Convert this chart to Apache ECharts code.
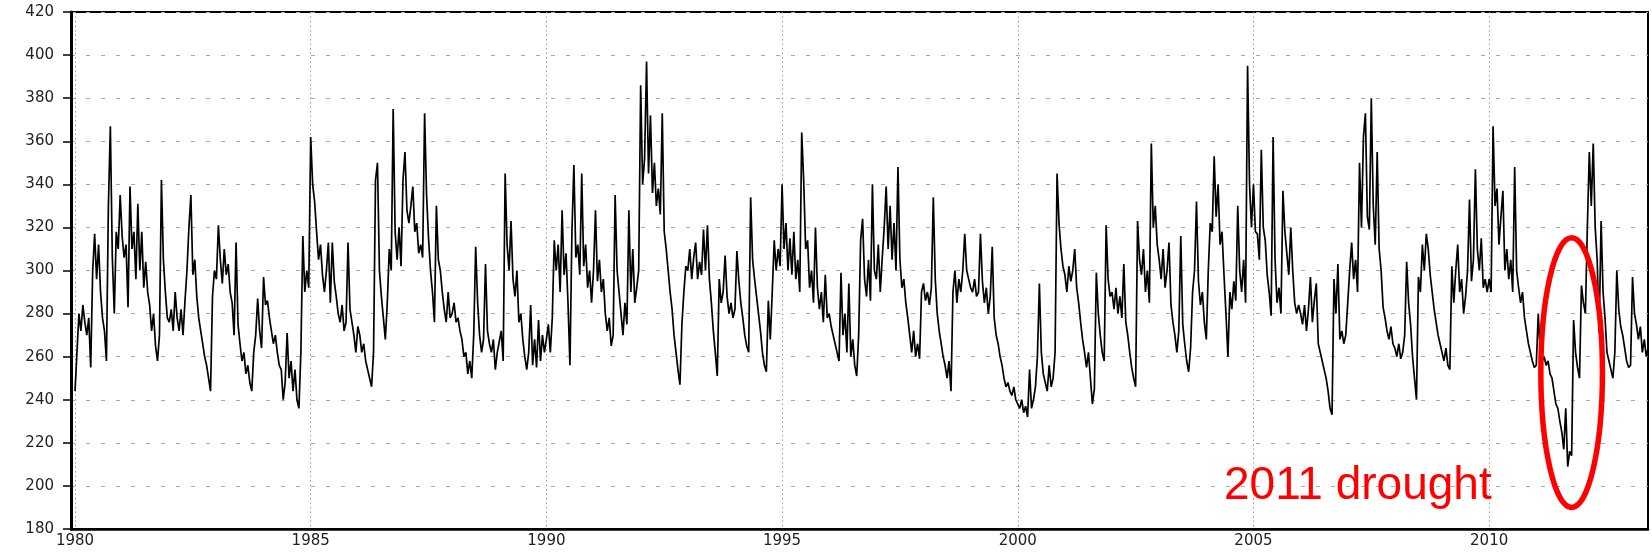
<!DOCTYPE html>
<html><head><meta charset="utf-8">
<script src="https://cdn.jsdelivr.net/npm/echarts@6/dist/echarts.min.js"></script>
<style>html,body{margin:0;padding:0;background:#fff}#c{width:1652px;height:556px}</style>
</head><body><div id="c"></div>
<script>
// half-monthly samples
const SAMPLES_PER_YEAR = 24;
const v1980 = [244,262,280,272,284,276,270,278,255,300,317,296,312,290,278,272,258,330,367,306,280,318,310,335];
const v1981 = [316,306,312,283,339,310,318,296,331,300,318,292,304,290,284,272,280,265,258,270,342,305,290,278];
const v1982 = [276,282,272,290,278,272,282,270,286,300,320,335,298,305,288,278,272,266,260,256,250,244,288,300];
const v1983 = [296,321,305,294,310,298,303,290,285,270,313,275,266,258,262,252,256,248,244,262,270,287,272,264];
const v1984 = [297,284,286,278,272,266,270,262,256,254,240,248,271,250,258,244,254,240,236,262,316,290,300,292];
const v1985 = [362,340,332,318,305,312,298,290,300,313,285,313,295,288,280,276,284,272,276,313,282,276,270,262];
const v1986 = [274,270,262,266,258,254,250,246,262,342,350,300,288,278,268,285,310,300,375,318,305,320,302,342];
const v1987 = [355,328,322,330,339,318,322,308,312,306,373,335,315,300,290,276,330,305,300,290,282,276,290,278];
const v1988 = [280,285,276,278,272,268,260,262,252,258,250,270,311,285,270,262,268,303,272,266,262,268,254,262];
const v1989 = [262,272,258,345,312,300,323,296,288,300,276,280,268,260,254,262,284,256,268,255,277,258,270,262];
const v1990 = [268,275,262,278,314,300,312,290,328,298,308,285,256,318,349,306,312,298,345,302,312,292,300,285];
const v1991 = [300,328,295,305,290,296,280,272,278,265,270,335,300,290,280,270,285,275,328,290,310,285,292,300];
const v1992 = [386,340,352,397,345,372,336,350,330,338,326,373,318,310,300,290,282,270,262,254,247,275,290,302];
const v1993 = [300,310,296,306,313,296,304,298,319,300,321,296,285,272,262,251,296,285,290,307,288,280,285,278];
const v1994 = [282,309,295,285,278,270,265,262,334,305,296,288,280,272,262,256,253,286,268,290,314,300,310,302];
const v1995 = [340,310,322,300,315,298,318,296,305,290,364,342,310,314,292,300,285,320,292,282,290,276,298,278];
const v1996 = [280,274,270,266,262,258,299,270,280,262,294,260,268,256,251,270,314,324,296,288,305,286,340,300];
const v1997 = [296,312,290,306,320,339,310,330,305,322,300,348,305,292,296,285,278,270,262,272,260,266,259,290];
const v1998 = [294,286,290,284,292,334,296,280,272,266,260,256,250,258,244,290,300,285,296,290,300,317,300,296];
const v1999 = [292,290,296,288,290,317,295,285,292,280,288,311,278,270,266,260,256,250,246,248,244,242,246,240];
const v2000 = [238,236,240,234,237,232,254,236,240,246,260,294,262,252,248,244,256,246,250,262,345,322,310,302];
const v2001 = [298,290,302,295,300,310,292,285,276,268,262,255,262,250,238,245,299,280,270,262,258,321,296,288];
const v2002 = [290,282,292,280,288,278,303,276,270,262,255,250,246,323,305,298,310,290,300,285,359,320,330,312];
const v2003 = [305,296,310,292,300,313,284,276,270,262,272,316,275,266,258,253,264,290,300,332,295,284,290,276];
const v2004 = [268,300,322,318,353,325,340,312,318,298,280,260,290,282,295,286,330,300,290,305,285,395,340,320];
const v2005 = [340,318,317,305,356,320,314,298,290,279,362,305,285,292,280,337,318,308,298,320,300,285,280,284];
const v2006 = [280,275,284,272,282,297,276,286,294,266,262,258,254,250,244,236,233,296,280,303,268,272,266,270];
const v2007 = [270,300,313,296,305,290,350,320,362,373,325,319,380,330,312,355,310,300,283,278,272,268,274,266];
const v2008 = [264,260,266,259,262,270,304,285,275,260,250,240,297,290,312,300,317,310,298,290,282,276,270,266];
const v2009 = [262,258,264,256,254,302,285,300,312,290,296,280,288,300,333,295,305,347,310,300,315,292,296,290];
const v2010 = [296,290,367,330,338,312,325,337,300,310,296,305,290,348,300,292,285,290,278,272,266,262,258,255];
const v2011 = [256,280,262,258,260,256,258,252,250,244,238,236,230,225,217,236,209,216,214,277,262,255,250,293];
const v2012 = [285,280,320,355,330,359,320,305,271,323,290,278,262,258,254,250,262,300,282,274,270,264,258,255];
const v2013 = [256,297,280,275,268,274,262,268,260,264];

const firstYear = 1980;
const yearArrays = [v1980,v1981,v1982,v1983,v1984,v1985,v1986,v1987,v1988,v1989,v1990,v1991,v1992,v1993,v1994,v1995,v1996,v1997,v1998,v1999,v2000,v2001,v2002,v2003,v2004,v2005,v2006,v2007,v2008,v2009,v2010,v2011,v2012,v2013];
const xTickValues = [1980,1985,1990,1995,2000,2005,2010];
const yMin = 180, yMax = 420, yStep = 20;
const annotationText = '2011 drought';

const data = [];
yearArrays.forEach((arr, k) => arr.forEach((v, i) => data.push([firstYear + k + i / SAMPLES_PER_YEAR, v])));

const chart = echarts.init(document.getElementById('c'), null, {renderer: 'canvas'});
const labelFont = {color: '#222', fontFamily: 'DejaVu Sans', fontSize: 15};
chart.setOption({
  animation: false,
  grid: {left: 71, right: 4, top: 12, bottom: 27, show: true, borderColor: '#000', borderWidth: 2},
  xAxis: {
    type: 'value', min: 1979.915, max: 2013.37,
    axisLine: {show: true, onZero: false, lineStyle: {color: '#000', width: 2.5}},
    axisTick: {show: false, customValues: xTickValues},
    axisLabel: Object.assign({customValues: xTickValues, margin: 5, formatter: v => String(v)}, labelFont),
    splitLine: {show: true, lineStyle: {color: '#999', type: [1.5, 3], width: 1}}
  },
  yAxis: {
    type: 'value', min: yMin, max: yMax, interval: yStep,
    axisLine: {show: true, lineStyle: {color: '#000', width: 3}},
    axisTick: {show: true, length: 8, lineStyle: {color: '#000', width: 1.5}},
    axisLabel: Object.assign({margin: 17}, labelFont),
    splitLine: {show: true, lineStyle: {color: '#aaa', type: [4, 11], width: 1}}
  },
  series: [{
    type: 'line', data: data, showSymbol: false, symbol: 'none', clip: true,
    lineStyle: {color: '#000', width: 1.7}
  }]
});
const c = chart.convertToPixel({gridIndex: 0}, [2011.75, 252.6]);
chart.setOption({
  graphic: [
    {type: 'ellipse', z: 100, shape: {cx: c[0], cy: c[1], rx: 30.8, ry: 134.8},
     style: {fill: 'none', stroke: '#ff0000', lineWidth: 5.5}},
    {type: 'text', z: 100, x: 1224, y: 486,
     style: {text: annotationText, fill: '#ff0000', font: '46px "Liberation Sans", Arial, sans-serif',
             textAlign: 'left', align: 'left', textVerticalAlign: 'middle', verticalAlign: 'middle'}}
  ]
});
</script></body></html>
